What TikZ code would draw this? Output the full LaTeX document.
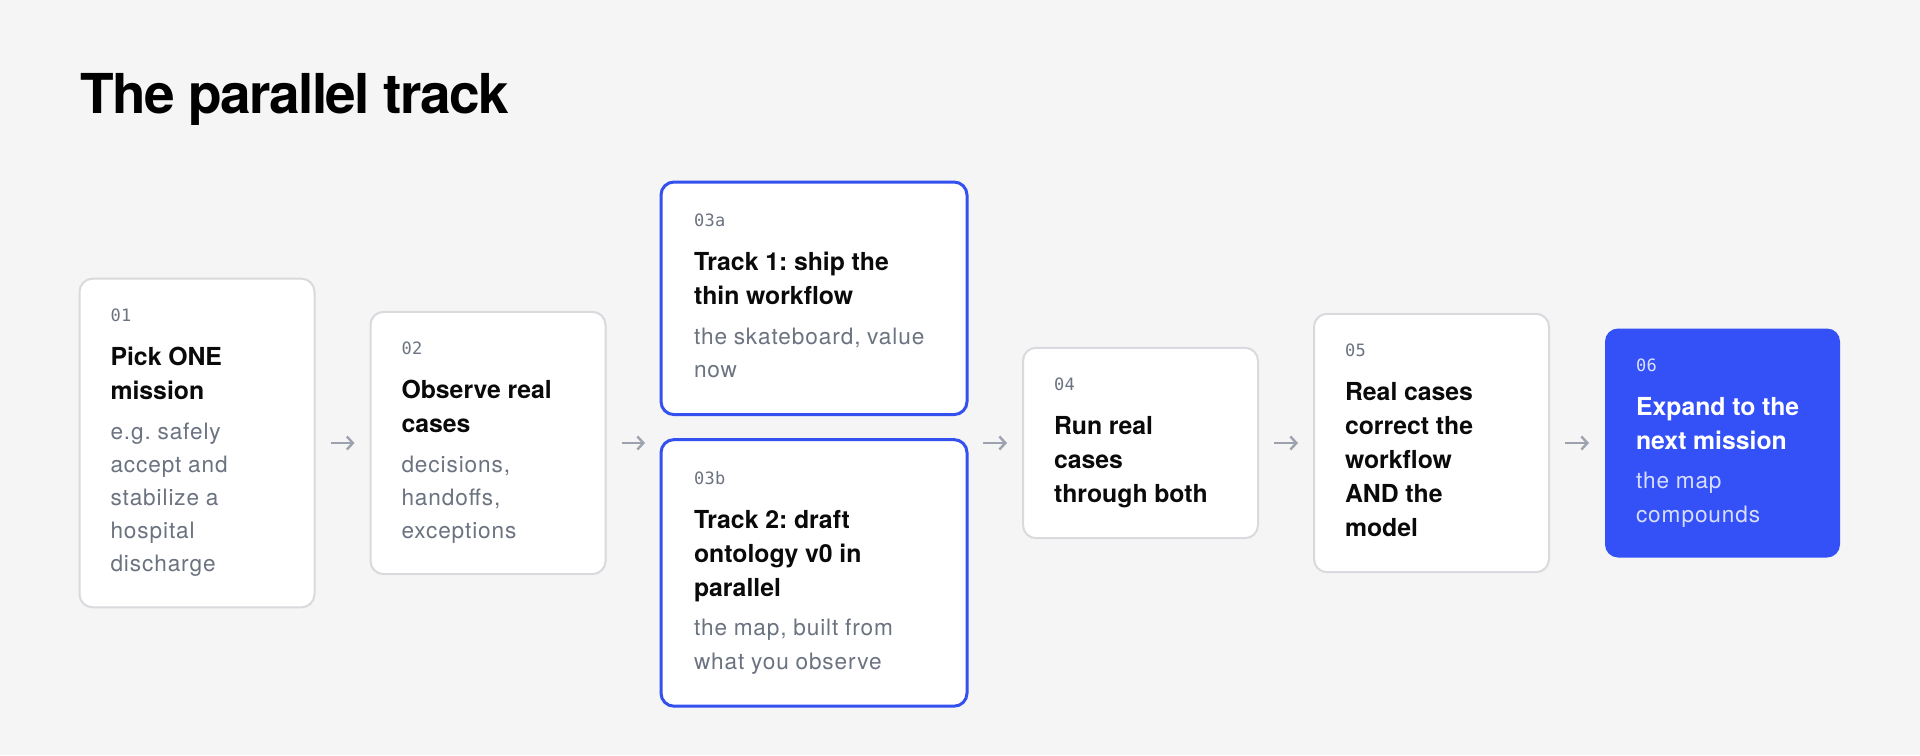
\documentclass[tikz,border=0pt]{standalone}
\usepackage{fontspec}
\setmainfont{TeX Gyre Heros}
\newfontfamily\headfamily[LetterSpace=-3]{TeX Gyre Heros}
\newfontfamily\notefamily[LetterSpace=4]{TeX Gyre Heros}
\newfontfamily\numfamily[LetterSpace=2]{DejaVu Sans Mono}
\usetikzlibrary{positioning,arrows.meta}
\frenchspacing

\definecolor{bgcol}{HTML}{F5F5F5}
\definecolor{edgegray}{HTML}{D9D9DE}
\definecolor{trackblue}{HTML}{3450EE}
\definecolor{lastblue}{HTML}{3451F8}
\definecolor{notegray}{HTML}{6B7280}
\definecolor{numgray}{HTML}{6B7280}
\definecolor{notelight}{HTML}{D8DEFF}
\definecolor{numlight}{HTML}{DCE2FF}
\definecolor{arrowgray}{HTML}{9CA3AF}
\definecolor{inkblack}{HTML}{0A0A0A}

\newcommand{\cardnum}[1]{{\numfamily\fontsize{8.5}{10}\selectfont\leavevmode\color{numcol}\rule{0pt}{7pt}#1\par}}
\newcommand{\cardhead}[1]{\vspace{5pt}{\bfseries\fontsize{12.4}{17}\selectfont #1\par}}
\newcommand{\cardnote}[1]{\vspace{3.1pt}{\notefamily\fontsize{11.3}{16.6}\selectfont\leavevmode\color{notecol}#1\par}}
\newcommand{\lastline}{\rule[-3.2pt]{0pt}{0pt}}

\begin{document}
\begin{tikzpicture}[x=0.5pt,y=-0.5pt,
    card/.style={draw=edgegray, line width=1pt, fill=white, rounded corners=6.5pt, outer sep=0pt,
      text width=86.5pt, inner xsep=15.5pt, inner ysep=14.5pt, align=left, text=inkblack,
      execute at begin node={\colorlet{notecol}{notegray}\colorlet{numcol}{numgray}}},
    track/.style={card, draw=trackblue, line width=1.5pt, text width=120pt,
      inner xsep=16.5pt, inner ysep=15.4pt},
    last/.style={card, draw=none, fill=lastblue, text=white,
      execute at begin node={\colorlet{notecol}{notelight}\colorlet{numcol}{numlight}}},
    flow/.style={draw=arrowgray, line width=1.2pt, -{Straight Barb[length=3pt,width=6.5pt]},
      shorten <=8pt, shorten >=8pt}]
  \fill[bgcol] (0,0) rectangle (1920,755);
  \useasboundingbox (0,0) rectangle (1920,755);

  \node[anchor=base west, inner sep=0pt, text=black,
    font=\headfamily\bfseries\fontsize{27.5}{33}\selectfont] (title) at (80,113) {The parallel track};

  \node[card, anchor=west] (b1) at (79.5,443) {\cardnum{01}\cardhead{Pick ONE\\mission}%
    \cardnote{e.g. safely\\accept and\\stabilize a\\hospital\\discharge\lastline}};
  \node[card, right=28pt of b1] (b2) {\cardnum{02}\cardhead{Observe real\\cases}%
    \cardnote{decisions,\\handoffs,\\exceptions\lastline}};
  \node[track, anchor=north west] (b3a) at (661,182) {\cardnum{03a}\cardhead{Track 1: ship the\\thin workflow}%
    \cardnote{the skateboard, value\\now\lastline}};
  \node[track, below=12.5pt of b3a] (b3b) {\cardnum{03b}\cardhead{Track 2: draft\\ontology v0 in\\parallel}%
    \cardnote{the map, built from\\what you observe\lastline}};
  \coordinate (t3in) at (b3a.west |- b2);
  \coordinate (t3out) at (b3a.east |- b2);
  \node[card, right=28pt of t3out] (b4) {\cardnum{04}\cardhead{Run real\\cases\\through both\lastline}};
  \node[card, right=28pt of b4] (b5) {\cardnum{05}\cardhead{Real cases\\correct the\\workflow\\AND the\\model\lastline}};
  \node[last, right=28pt of b5] (b6) {\cardnum{06}\cardhead{Expand to the\\next mission}%
    \cardnote{the map\\compounds\lastline}};

  \draw[flow] (b1) -- (b2);
  \draw[flow] (b2) -- (t3in);
  \draw[flow] (t3out) -- (b4);
  \draw[flow] (b4) -- (b5);
  \draw[flow] (b5) -- (b6);
\end{tikzpicture}
\end{document}
